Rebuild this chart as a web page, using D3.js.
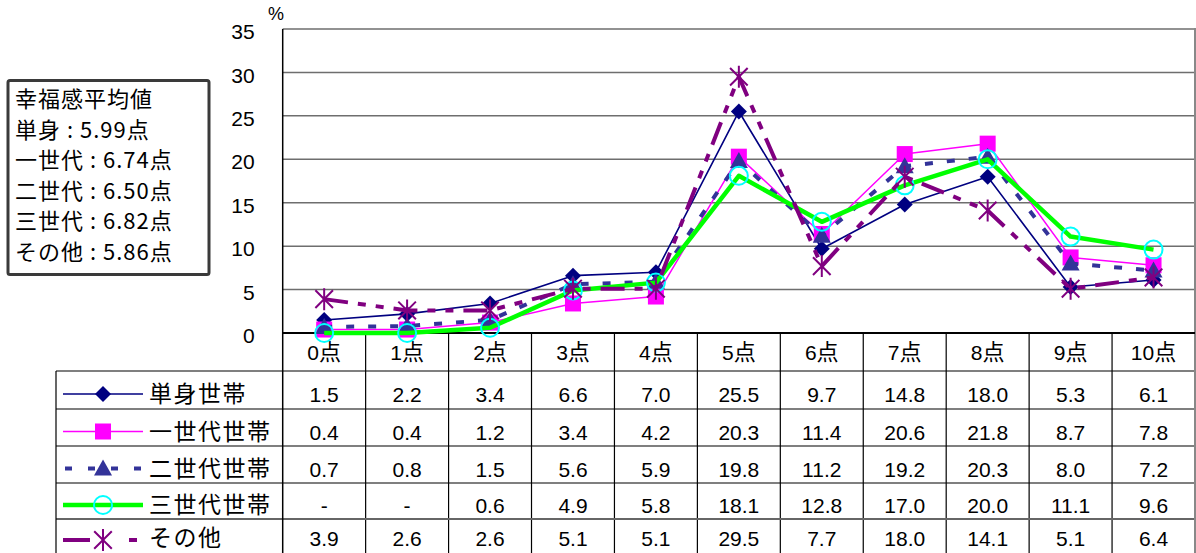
<!DOCTYPE html>
<html><head><meta charset="utf-8">
<script src="https://cdn.jsdelivr.net/npm/d3@7"></script>
<style>
html,body{margin:0;padding:0;background:#fff;}
svg{display:block;font-family:"Liberation Sans","Noto Sans CJK JP",sans-serif;}
</style></head>
<body>
<svg id="chart" width="1196" height="553"></svg>
<script>
// ---- data ----
const categories = ["0点","1点","2点","3点","4点","5点","6点","7点","8点","9点","10点"];
const seriesNames = ["単身世帯","一世代世帯","二世代世帯","三世代世帯","その他"];
const tanshin   = [1.5, 2.2, 3.4, 6.6, 7.0, 25.5, 9.7, 14.8, 18.0, 5.3, 6.1];
const ichisedai = [0.4, 0.4, 1.2, 3.4, 4.2, 20.3, 11.4, 20.6, 21.8, 8.7, 7.8];
const nisedai   = [0.7, 0.8, 1.5, 5.6, 5.9, 19.8, 11.2, 19.2, 20.3, 8.0, 7.2];
const sansedai  = [null, null, 0.6, 4.9, 5.8, 18.1, 12.8, 17.0, 20.0, 11.1, 9.6];
const sonota    = [3.9, 2.6, 2.6, 5.1, 5.1, 29.5, 7.7, 18.0, 14.1, 5.1, 6.4];
const yTicks = [0, 5, 10, 15, 20, 25, 30, 35];
const yUnit = "%";
const noteLines = ["幸福感平均値","単身 : 5.99点","一世代 : 6.74点","二世代 : 6.50点","三世代 : 6.82点","その他 : 5.86点"];

const seriesValues = [tanshin, ichisedai, nisedai, sansedai, sonota];
const styles = [
  {color:"#000080", width:1.6, dash:null, legDash:null, marker:"diamond", mfill:"#000080", mstroke:"#000080"},
  {color:"#FF00FF", width:1.5, dash:null, legDash:null, marker:"square", mfill:"#FF00FF", mstroke:"#FF00FF"},
  {color:"#333399", width:4, dash:"8,14", legDash:"7,16", marker:"triangle", mfill:"#333399", mstroke:"#333399"},
  {color:"#00FF00", width:4.5, dash:null, legDash:null, marker:"circle", mfill:"none", mstroke:"#00FFFF"},
  {color:"#800080", width:4, dash:"24,10,8,10,8,10", legDash:"27,39,8,30", marker:"star", mfill:"none", mstroke:"#800080"}
];

const svg = d3.select("#chart");
const plotL = 282.7, plotR = 1195, plotT = 29, plotB = 333;
const tableLeft = 56, tableBottom = 556;
const rowLines = [371, 409, 446, 483, 519];

const x = d3.scaleBand().domain(categories).range([plotL, plotR]).padding(0);
const y = d3.scaleLinear().domain([0, 35]).range([plotB, plotT]);

function isCJK(ch){ return /[\u3000-\u30ff\u3400-\u9fff\uff00-\uffef]/.test(ch); }
function richText(sel, str, latinSize, cjkSize){
  const runs = [];
  for (const ch of str){
    const c = isCJK(ch);
    if (runs.length && runs[runs.length-1].c === c) runs[runs.length-1].t += ch;
    else runs.push({c, t: ch});
  }
  runs.forEach(r => {
    const ts = sel.append("tspan").text(r.t);
    if (r.c) ts.attr("font-family","Noto Sans CJK JP").attr("font-size", cjkSize);
    else ts.attr("font-family","Liberation Sans").attr("font-size", latinSize);
  });
}

// ---- gridlines ----
svg.append("g").selectAll("line").data(yTicks.filter(d => d > 0)).join("line")
  .attr("x1", plotL).attr("x2", plotR)
  .attr("y1", d => y(d)).attr("y2", d => y(d))
  .attr("stroke", "#6e6e6e").attr("stroke-width", 1.5);

// ---- y axis ----
const yAxis = d3.axisLeft(y).tickValues(yTicks).tickSize(0).tickPadding(28);
const yg = svg.append("g").attr("transform", `translate(${plotL},0)`).call(yAxis);
yg.select(".domain").remove();
yg.selectAll("text").attr("font-size", 21).attr("font-family","Liberation Sans").attr("fill","#000").attr("dy","0.65em").attr("y", -4);

svg.append("text").attr("x", 276).attr("y", 20).attr("text-anchor","middle")
  .attr("font-size", 18).attr("font-family","Liberation Sans").text(yUnit);

// ---- table grid ----
const tg = svg.append("g");
const bounds = d3.range(categories.length + 1).map(i => plotL + i * x.bandwidth());
tg.selectAll("line.v").data(bounds.slice(1, -1)).join("line").attr("class","v")
  .attr("x1", d => d).attr("x2", d => d).attr("y1", plotB).attr("y2", tableBottom)
  .attr("stroke", "#000").attr("stroke-width", 1.2);
tg.selectAll("line.h").data(rowLines).join("line").attr("class","h")
  .attr("x1", tableLeft).attr("x2", plotR).attr("y1", d => d).attr("y2", d => d)
  .attr("stroke", (d,i) => i === 4 ? "#666" : "#000").attr("stroke-width", (d,i) => i === 4 ? 2 : 1.2);
tg.append("line").attr("x1", tableLeft).attr("x2", tableLeft).attr("y1", rowLines[0]).attr("y2", tableBottom)
  .attr("stroke", "#000").attr("stroke-width", 1.2);
// right border
svg.append("line").attr("x1", plotR).attr("x2", plotR).attr("y1", plotT - 1).attr("y2", tableBottom)
  .attr("stroke", "#888").attr("stroke-width", 2);
// y axis line & zero axis
svg.append("line").attr("x1", plotL).attr("x2", plotL).attr("y1", plotT).attr("y2", tableBottom)
  .attr("stroke", "#000").attr("stroke-width", 1.5);
svg.append("line").attr("x1", plotL).attr("x2", plotR).attr("y1", plotB).attr("y2", plotB)
  .attr("stroke", "#000").attr("stroke-width", 2);

// header labels
svg.append("g").selectAll("text").data(categories).join("text")
  .attr("x", d => x(d) + x.bandwidth() / 2).attr("y", 360)
  .attr("text-anchor", "middle")
  .each(function(d){ richText(d3.select(this), d, 21, 22); });

// ---- markers ----
function drawMarker(g, type, cx, cy, st){
  if (type === "diamond"){
    g.append("path").attr("d", `M${cx},${cy-8}L${cx+8},${cy}L${cx},${cy+8}L${cx-8},${cy}Z`).attr("fill", st.mfill);
  } else if (type === "square"){
    g.append("rect").attr("x", cx-8).attr("y", cy-8).attr("width", 16).attr("height", 16).attr("fill", st.mfill);
  } else if (type === "triangle"){
    g.append("path").attr("d", `M${cx},${cy-9}L${cx+9},${cy+7}L${cx-9},${cy+7}Z`).attr("fill", st.mfill);
  } else if (type === "circle"){
    g.append("circle").attr("cx", cx).attr("cy", cy).attr("r", 9).attr("fill", "none")
      .attr("stroke", st.mstroke).attr("stroke-width", 2);
  } else if (type === "star"){
    const r = 11;
    const d = `M${cx},${cy-r}L${cx},${cy+r}M${cx-r*0.8},${cy-r*0.8}L${cx+r*0.8},${cy+r*0.8}M${cx+r*0.8},${cy-r*0.8}L${cx-r*0.8},${cy+r*0.8}`;
    g.append("path").attr("d", d).attr("stroke", st.mstroke).attr("stroke-width", 2).attr("fill","none");
  }
}

// ---- series lines ----
const line = d3.line().x((d, i) => x(categories[i]) + x.bandwidth() / 2).y(d => y(d ?? 0));
seriesValues.forEach((vals, si) => {
  const st = styles[si];
  const g = svg.append("g");
  g.append("path").datum(vals).attr("d", line).attr("fill", "none")
    .attr("stroke", st.color).attr("stroke-width", st.width)
    .attr("stroke-dasharray", st.dash).attr("stroke-linejoin", "round");
  vals.forEach((v, i) => drawMarker(g, st.marker, x(categories[i]) + x.bandwidth() / 2, y(v ?? 0), st));
});

// ---- table rows ----
seriesValues.forEach((vals, si) => {
  const st = styles[si];
  const top = rowLines[si];
  const next = si < 4 ? rowLines[si + 1] : tableBottom;
  const cy = Math.min((top + next) / 2 + 4, 540);
  const ty = si < 4 ? cy + 8 : cy + 6;
  const g = svg.append("g");
  g.append("line").attr("x1", si === 2 ? 65 : 63).attr("x2", 143).attr("y1", cy).attr("y2", cy)
    .attr("stroke", st.color).attr("stroke-width", st.width)
    .attr("stroke-dasharray", st.legDash);
  drawMarker(g, st.marker, 103, cy, st);
  g.append("text").attr("x", 149).attr("y", ty)
    .attr("font-family","Noto Sans CJK JP").attr("font-size", 23).attr("letter-spacing", 1.5)
    .text(seriesNames[si]);
  g.selectAll("text.v").data(vals).join("text").attr("class","v")
    .attr("x", (d, i) => x(categories[i]) + x.bandwidth() / 2).attr("y", ty)
    .attr("text-anchor", "middle").attr("font-size", 21).attr("font-family","Liberation Sans")
    .text(d => d == null ? "-" : d.toFixed(1));
});

// ---- note box ----
const nb = svg.append("g");
nb.append("rect").attr("x", 8).attr("y", 80.5).attr("width", 201).attr("height", 194)
  .attr("fill", "#fff").attr("stroke", "#3a3a3a").attr("stroke-width", 3).attr("rx", 2);
nb.selectAll("text").data(noteLines).join("text")
  .attr("x", 15).attr("y", (d, i) => 107 + i * 30.6)
  .attr("font-family", "Noto Sans CJK JP").attr("font-size", 22).attr("letter-spacing", 1)
  .attr("xml:space", "preserve").style("white-space", "pre")
  .text(d => d);
</script>
</body></html>
